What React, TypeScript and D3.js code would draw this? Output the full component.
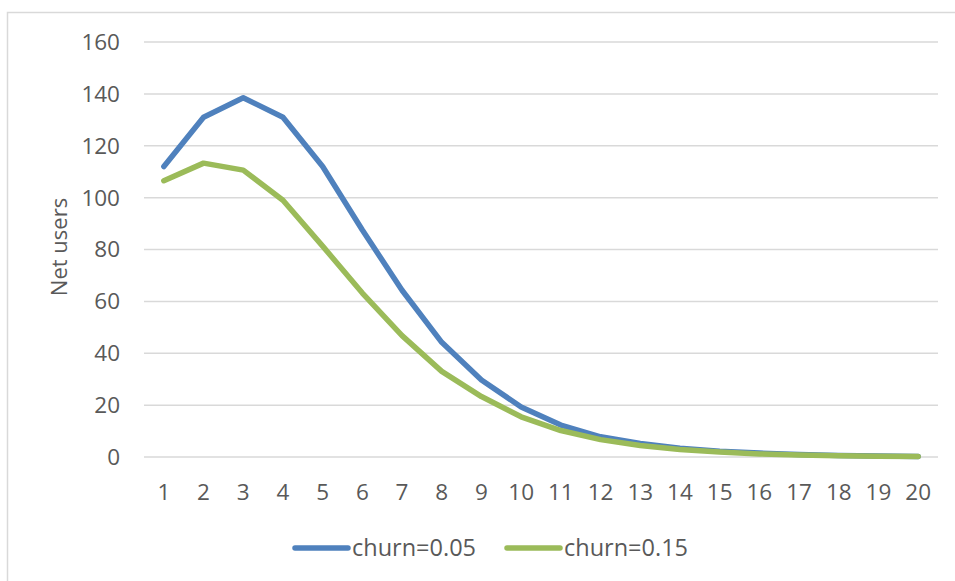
import React from "react";
import * as d3 from "d3";

const periods = d3.range(1, 21).map(String);
const churn05 = [112, 131, 138.5, 131, 112, 87.5, 64.3, 44.2, 29.7, 19.3, 12.3, 7.8, 5.2, 3.4, 2.2, 1.5, 1.0, 0.6, 0.4, 0.2];
const churn15 = [106.5, 113.3, 110.6, 99, 81.3, 63.2, 46.8, 33.0, 23.3, 15.5, 10.2, 6.7, 4.4, 2.9, 1.9, 1.2, 0.8, 0.5, 0.3, 0.2];
const yTicks = [0, 20, 40, 60, 80, 100, 120, 140, 160];
const seriesNames = ["churn=0.05", "churn=0.15"];
const seriesColors = ["#4F81BD", "#9BBB59"];

const W = 955;
const H = 581;
const FONT = "'Open Sans', sans-serif";

export default function App() {
  const x = d3.scalePoint<string>().domain(periods).range([144, 938]).padding(0.5);
  const y = d3.scaleLinear().domain([0, 160]).range([457, 42]);
  const line = d3
    .line<number>()
    .x((_, i) => x(periods[i]) as number)
    .y((d) => y(d));
  const series = [churn05, churn15];

  return (
    <svg
      width={W}
      height={H}
      style={{ position: "absolute", left: 0, top: 0, background: "#fff" }}
      fontFamily={FONT}
    >
      <rect x={7.5} y={12.5} width={W} height={H} fill="#fff" stroke="#d9d9d9" strokeWidth={1.5} />
      {yTicks.map((t) => (
        <g key={t}>
          <line x1={144} x2={938} y1={y(t)} y2={y(t)} stroke="#d9d9d9" strokeWidth={1.5} />
          <text x={120} y={y(t)} dy="0.35em" textAnchor="end" fontSize={22.5} fill="#595959">
            {t}
          </text>
        </g>
      ))}
      {periods.map((p) => (
        <text key={p} x={x(p)} y={492} dy="0.35em" textAnchor="middle" fontSize={22.5} fill="#595959">
          {p}
        </text>
      ))}
      <text
        transform={`translate(59,247) rotate(-90)`}
        textAnchor="middle"
        dy="0.35em"
        fontSize={22}
        fill="#595959"
      >
        Net users
      </text>
      {series.map((s, i) => (
        <path
          key={i}
          d={line(s) as string}
          fill="none"
          stroke={seriesColors[i]}
          strokeWidth={5.5}
          strokeLinejoin="round"
          strokeLinecap="round"
        />
      ))}
      {seriesNames.map((n, i) => {
        const lx = 295 + i * 212;
        return (
          <g key={n}>
            <line x1={lx} x2={lx + 53} y1={548} y2={548} stroke={seriesColors[i]} strokeWidth={5.5} strokeLinecap="round" />
            <text x={lx + 57} y={548} dy="0.35em" fontSize={23.5} fill="#595959">
              {n}
            </text>
          </g>
        );
      })}
    </svg>
  );
}
